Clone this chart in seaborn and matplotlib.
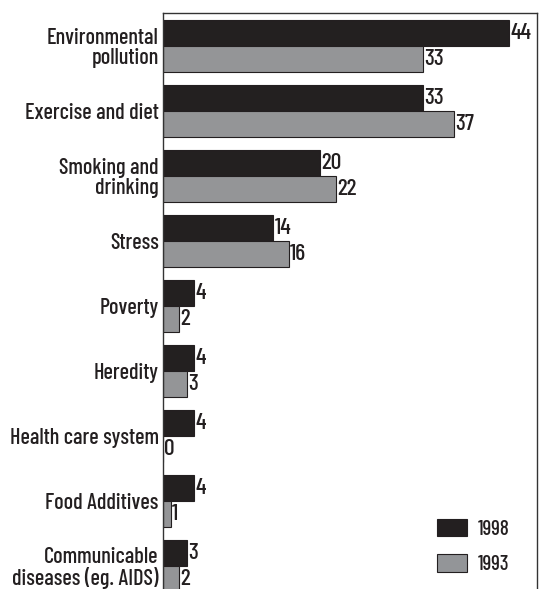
import matplotlib
matplotlib.use("Agg")
import matplotlib.pyplot as plt
import seaborn as sns
import pandas as pd
from matplotlib.patches import Patch

categories = ["Environmental\npollution", "Exercise and diet", "Smoking and\ndrinking",
              "Stress", "Poverty", "Heredity", "Health care system", "Food Additives",
              "Communicable\ndiseases (eg. AIDS)"]
values_1998 = [44, 33, 20, 14, 4, 4, 4, 4, 3]
values_1993 = [33, 37, 22, 16, 2, 3, 0, 1, 2]
years = ["1998", "1993"]

df = pd.DataFrame({
    "category": categories * 2,
    "value": values_1998 + values_1993,
    "year": [years[0]] * len(categories) + [years[1]] * len(categories),
})

sns.set_style("white")
plt.rcParams['font.family'] = ['Barlow Condensed', 'DejaVu Sans']
plt.rcParams['font.weight'] = 500
text_color = "#231f20"
palette = {"1998": "#231f20", "1993": "#939598"}
fs = 16

fig = plt.figure(figsize=(5.43, 5.89), dpi=100)
ax = fig.add_axes([163/543, 0, 374/543, 576/589])

sns.barplot(data=df, x="value", y="category", hue="year", hue_order=years,
            order=categories, orient="h", palette=palette, width=0.8,
            edgecolor="#231f20", linewidth=0.8, ax=ax, legend=False)

for cont in ax.containers:
    ax.bar_label(cont, padding=1, fontsize=17, color=text_color)

ax.set_xlim(0, 47.56)
ax.set_ylim(8.36, -0.5)
ax.set_xlabel("")
ax.set_ylabel("")
ax.set_xticks([])
ax.tick_params(axis="y", length=0, pad=3, labelsize=fs, labelcolor=text_color)
for lbl in ax.get_yticklabels():
    lbl.set_horizontalalignment("right")
    lbl.set_multialignment("right")
    lbl.set_linespacing(1.05)

for side in ["left", "top", "right"]:
    ax.spines[side].set_visible(True)
    ax.spines[side].set_color("#333333")
    ax.spines[side].set_linewidth(1.0)
ax.spines["bottom"].set_visible(False)

handles = [Patch(facecolor=palette[y], edgecolor="#231f20", linewidth=0.8, label=y) for y in years]
fig.legend(handles=handles, loc="upper left", bbox_to_anchor=(418/543, 1 - 500/589),
           frameon=False, fontsize=15, handlelength=1.45, handleheight=0.92,
           handletextpad=0.5, labelspacing=0.75, labelcolor=text_color)

fig.savefig("out.png", dpi=100)
